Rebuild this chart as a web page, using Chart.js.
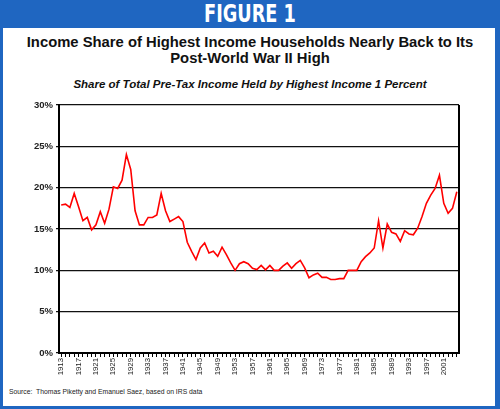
<!DOCTYPE html>
<html>
<head>
<meta charset="utf-8">
<script src="https://cdn.jsdelivr.net/npm/chart.js@4.4.1/dist/chart.umd.min.js"></script>
<style>
  html,body{margin:0;padding:0;}
  body{width:500px;height:409px;position:relative;background:#1f66c1;overflow:hidden;font-family:"Liberation Sans",Arial,sans-serif;}
  #hdr{position:absolute;left:0;top:0;width:500px;height:28px;text-align:center;color:#fff;font-family:"DejaVu Sans Condensed","Liberation Sans",sans-serif;font-weight:bold;font-size:24px;line-height:29px;}
  #hdr span{display:inline-block;transform:scaleX(0.82);transform-origin:center;}
  #box{position:absolute;left:3px;top:28px;width:492px;height:378px;background:#fff;}
  #t1{position:absolute;left:0;top:34px;width:500px;text-align:center;font-weight:bold;font-size:14.8px;line-height:16px;color:#111;}
  #t2{position:absolute;left:0;top:78px;width:500px;text-align:center;font-weight:bold;font-style:italic;font-size:11.5px;color:#111;}
  #src{position:absolute;left:9px;top:388px;font-size:6.8px;color:#222;}
  #wrap{position:absolute;left:0;top:95px;width:500px;height:290px;}
</style>
</head>
<body>
<div id="hdr"><span>FIGURE 1</span></div>
<div id="box"></div>
<div id="t1">Income Share of Highest Income Households Nearly Back to Its<br>Post-World War II High</div>
<div id="t2">Share of Total Pre-Tax Income Held by Highest Income 1 Percent</div>
<div id="wrap"><canvas id="c"></canvas></div>
<div id="src">Source:&nbsp; Thomas Piketty and Emanuel Saez, based on IRS data</div>
<script>
const years = [];
for (let y = 1913; y <= 2004; y++) years.push(String(y));

const topShare = [
  17.9, 18.0, 17.6, 19.3, 17.7, 16.0, 16.4, 14.9, 15.5, 17.1,
  15.7, 17.4, 20.1, 19.9, 20.9, 24.0, 22.2, 17.2, 15.5, 15.5,
  16.4, 16.4, 16.7, 19.3, 17.2, 15.9, 16.2, 16.5, 15.9, 13.4,
  12.3, 11.3, 12.7, 13.3, 12.1, 12.3, 11.7, 12.8, 11.9, 10.9,
  10.0, 10.8, 11.05, 10.8, 10.25, 10.1, 10.6, 10.05, 10.6, 10.0,
  10.0, 10.5, 10.9, 10.25, 10.8, 11.2, 10.3, 9.1, 9.45, 9.65,
  9.15, 9.15, 8.9, 8.9, 9.0, 9.0, 10.0, 10.0, 10.0, 11.05,
  11.65, 12.1, 12.7, 16.0, 12.7, 15.6, 14.6, 14.4, 13.5, 14.8,
  14.4, 14.3, 15.1, 16.5, 18.1, 19.1, 19.9, 21.5, 18.1, 16.9,
  17.5, 19.5
];

const xTickLabels = ['1913','1917','1921','1925','1929','1933','1937','1941','1945','1949','1953','1957','1961','1965','1969','1973','1977','1981','1985','1989','1993','1997','2001'];
const yTicks = [0, 5, 10, 15, 20, 25, 30];

const frame = {
  id: 'frame',
  afterDraw(chart) {
    const a = chart.chartArea, ctx = chart.ctx;
    ctx.save();
    ctx.strokeStyle = '#000';
    ctx.lineWidth = 2;
    ctx.beginPath();
    ctx.moveTo(a.right, a.top);
    ctx.lineTo(a.right, a.bottom);
    ctx.stroke();
    ctx.restore();
  }
};

new Chart(document.getElementById('c'), {
  type: 'line',
  data: {
    labels: years,
    datasets: [{
      data: topShare,
      borderColor: '#ff0000',
      borderWidth: 1.6,
      pointRadius: 0,
      tension: 0,
      fill: false
    }]
  },
  options: {
    responsive: true,
    maintainAspectRatio: false,
    animation: false,
    events: [],
    layout: { padding: { left: 0, right: 41, top: 10, bottom: 0 } },
    plugins: { legend: { display: false }, tooltip: { enabled: false } },
    scales: {
      x: {
        type: 'category',
        offset: true,
        border: { color: '#000', width: 2 },
        grid: { drawOnChartArea: false, drawTicks: true, tickLength: 4, color: '#000', lineWidth: 1 },
        ticks: {
          autoSkip: false,
          maxRotation: 90,
          minRotation: 90,
          padding: 1,
          color: '#222',
          font: { family: 'Liberation Sans, Arial, sans-serif', size: 7.8 },
          callback: function(v) {
            const l = this.getLabelForValue(v);
            return xTickLabels.includes(l) ? l : '';
          }
        },
        afterFit(s) { s.height = 32; }
      },
      y: {
        min: 0,
        max: 30,
        afterBuildTicks(s) { s.ticks = yTicks.map(v => ({ value: v })); },
        border: { color: '#000', width: 2 },
        grid: { color: '#111', lineWidth: 1.3, tickLength: 3 },
        ticks: {
          padding: 3,
          color: '#222',
          font: { family: 'Liberation Sans, Arial, sans-serif', size: 9.5, weight: 'bold' },
          callback: v => v + '%'
        },
        afterFit(s) { s.width = 59; }
      }
    }
  },
  plugins: [frame]
});
</script>
</body>
</html>
